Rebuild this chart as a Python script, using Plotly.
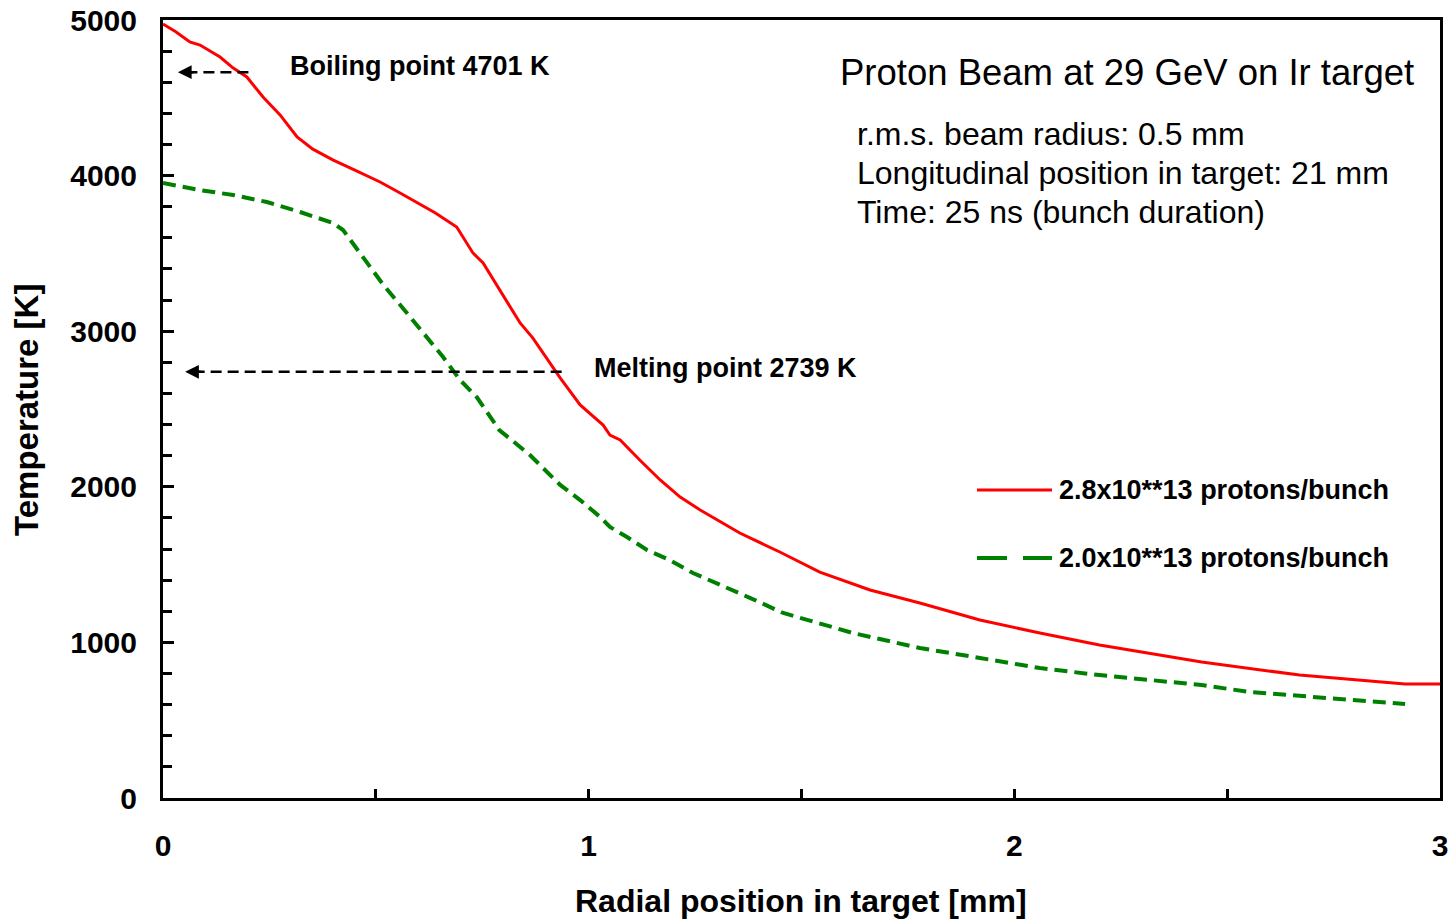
import plotly.graph_objects as go

# ---- data ----
red_x = [0, 0.03, 0.063, 0.087, 0.134, 0.165, 0.197, 0.235, 0.275, 0.315, 0.352, 0.40, 0.447,
         0.51, 0.557, 0.60, 0.64, 0.69, 0.728, 0.752, 0.792, 0.839, 0.869, 0.893, 0.933, 0.98,
         1.019, 1.034, 1.05, 1.074, 1.12, 1.168, 1.215, 1.262, 1.355, 1.449, 1.543, 1.661,
         1.778, 1.919, 2.06, 2.2, 2.44, 2.67, 2.918, 3.0]
red_y = [4974, 4925, 4859, 4839, 4762, 4691, 4634, 4505, 4390, 4248, 4170, 4100, 4040,
         3959, 3888, 3820, 3760, 3670, 3503, 3438, 3265, 3053, 2956, 2860, 2700, 2526,
         2429, 2397, 2333, 2301, 2172, 2044, 1934, 1851, 1703, 1581, 1452, 1337,
         1253, 1144, 1060, 983, 874, 790, 733, 733]

green_x = [0, 0.087, 0.165, 0.244, 0.322, 0.40, 0.423, 0.463, 0.517, 0.573, 0.62, 0.658, 0.698,
           0.737, 0.79, 0.862, 0.933, 0.98, 1.027, 1.05, 1.09, 1.137, 1.19, 1.245, 1.38,
           1.457, 1.621, 1.778, 1.919, 2.06, 2.2, 2.44, 2.554, 2.918]
green_y = [3952, 3907, 3875, 3830, 3766, 3695, 3650, 3502, 3300, 3117, 2963, 2834, 2686,
           2577, 2365, 2204, 2012, 1915, 1806, 1742, 1677, 1594, 1530, 1446, 1285,
           1189, 1060, 964, 900, 835, 790, 726, 681, 604]

series_names = ["2.8x10**13 protons/bunch", "2.0x10**13 protons/bunch"]

x_tickvals = [0, 0.5, 1, 1.5, 2, 2.5, 3]
x_ticktext = ["0", "", "1", "", "2", "", "3"]
y_tickvals = [0, 1000, 2000, 3000, 4000, 5000]

boiling_T = 4665
boiling_x = [0.035, 0.204]
melting_T = 2739
melting_x = [0.052, 0.944]

FONT = "Liberation Sans, Arial, sans-serif"

# plot-area geometry (pixels) used for paper-positioned text
L, R, T, B = 163, 1440, 20, 798
W, H = R - L, B - T


def px(xp):
    return (xp - L) / W


def py(yp):
    return (B - yp) / H


fig = go.Figure()
fig.add_trace(go.Scatter(x=red_x, y=red_y, mode="lines", name=series_names[0],
                         line=dict(color="#FF0000", width=3), showlegend=False))
fig.add_trace(go.Scatter(x=green_x, y=green_y, mode="lines", name=series_names[1],
                         line=dict(color="#008000", width=4, dash="13px,7px"), showlegend=False))

# dashed arrows
for xs, Tv in [(boiling_x, boiling_T), (melting_x, melting_T)]:
    fig.add_shape(type="line", x0=xs[0] + 0.02, x1=xs[1], y0=Tv, y1=Tv, xref="x", yref="y",
                  line=dict(color="black", width=2.5, dash="11px,6px"))
    fig.add_annotation(x=xs[0], y=Tv, ax=xs[0] + 0.04, ay=Tv, xref="x", yref="y",
                       axref="x", ayref="y", text="", showarrow=True, arrowhead=2,
                       arrowsize=1.1, arrowwidth=2.5, arrowcolor="black")

fig.add_annotation(x=px(288), y=py(66), xref="paper", yref="paper", text="Boiling point 4701 K",
                   showarrow=False, xanchor="left", yanchor="middle",
                   font=dict(family=FONT, size=27, color="black", weight="bold"))
fig.add_annotation(x=px(592), y=py(368), xref="paper", yref="paper", text="Melting point 2739 K",
                   showarrow=False, xanchor="left", yanchor="middle",
                   font=dict(family=FONT, size=27, color="black", weight="bold"))

# title block
fig.add_annotation(x=px(1416), y=py(72), xref="paper", yref="paper",
                   text="Proton Beam at 29 GeV on Ir target", showarrow=False,
                   xanchor="right", yanchor="middle",
                   font=dict(family=FONT, size=36.5, color="black"))
for txt, yp in [("r.m.s. beam radius: 0.5 mm", 134),
                ("Longitudinal position in target: 21 mm", 173),
                ("Time: 25 ns (bunch duration)", 212)]:
    fig.add_annotation(x=px(855), y=py(yp), xref="paper", yref="paper",
                       text=txt, showarrow=False, xanchor="left", yanchor="middle",
                       font=dict(family=FONT, size=32, color="black"))

# manual legend
for i, (name, col, dash, w) in enumerate([(series_names[0], "#FF0000", "solid", 3),
                                          (series_names[1], "#008000", "30px,16px", 4)]):
    yy = py(490 + 68 * i)
    fig.add_shape(type="line", xref="paper", yref="paper",
                  x0=px(977), x1=px(1052), y0=yy, y1=yy,
                  line=dict(color=col, width=w, dash=dash))
    fig.add_annotation(x=px(1057), y=yy, xref="paper", yref="paper", text=name,
                       showarrow=False, xanchor="left", yanchor="middle",
                       font=dict(family=FONT, size=27, color="black", weight="bold"))

# axis titles
fig.add_annotation(x=px(801), y=py(901), xref="paper", yref="paper",
                   text="Radial position in target [mm]", showarrow=False,
                   xanchor="center", yanchor="middle",
                   font=dict(family=FONT, size=32, color="black", weight="bold"))
fig.add_annotation(x=px(27), y=py(410), xref="paper", yref="paper",
                   text="Temperature [K]", showarrow=False, textangle=-90,
                   xanchor="center", yanchor="middle",
                   font=dict(family=FONT, size=33, color="black", weight="bold"))

fig.update_xaxes(range=[0, 3], tickvals=x_tickvals, ticktext=x_ticktext, ticks="inside",
                 ticklen=9, tickwidth=3, tickcolor="black", showline=True, linewidth=3,
                 linecolor="black", mirror=True, showgrid=False, zeroline=False,
                 ticklabelstandoff=19, automargin=False,
                 tickfont=dict(family=FONT, size=30, color="black", weight="bold"))
fig.update_yaxes(range=[0, 5000], tickvals=y_tickvals, ticks="inside", ticklen=11,
                 tickwidth=3, tickcolor="black", showline=True, linewidth=3,
                 linecolor="black", mirror=True, showgrid=False, zeroline=False,
                 minor=dict(dtick=200, ticks="inside", ticklen=9, tickwidth=3,
                            tickcolor="black", showgrid=False),
                 ticklabelstandoff=17, automargin=False,
                 tickfont=dict(family=FONT, size=30, color="black", weight="bold"))

fig.update_layout(width=1452, height=919, margin=dict(l=L, r=1452 - R, t=T, b=919 - B),
                  paper_bgcolor="white", plot_bgcolor="white")

fig.write_html("out.html")
